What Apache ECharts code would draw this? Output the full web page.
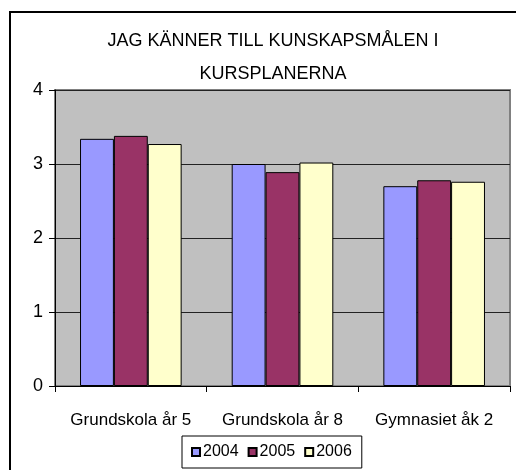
<!DOCTYPE html>
<html>
<head>
<meta charset="utf-8">
<script src="https://cdn.jsdelivr.net/npm/echarts@6/dist/echarts.min.js"></script>
<style>html,body{margin:0;padding:0;background:#fff;}#c{width:516px;height:470px;}</style>
</head>
<body>
<div id="c"></div>
<script>
const categories = ['Grundskola år 5', 'Grundskola år 8', 'Gymnasiet åk 2'];
const seriesNames = ['2004', '2005', '2006'];
const values2004 = [3.34, 3.00, 2.70];
const values2005 = [3.38, 2.89, 2.78];
const values2006 = [3.27, 3.02, 2.76];
const yTicks = [0, 1, 2, 3, 4];
const titleText = 'JAG KÄNNER TILL KUNSKAPSMÅLEN I\nKURSPLANERNA';

const colors = ['#9999ff', '#993366', '#ffffcc'];
const allValues = [values2004, values2005, values2006];
const font = '"Liberation Sans", Arial, sans-serif';

const chart = echarts.init(document.getElementById('c'), null, {renderer: 'canvas'});
chart.setOption({
  animation: false,
  backgroundColor: '#ffffff',
  graphic: [{
    type: 'rect',
    shape: {x: 10, y: 12, width: 540, height: 500},
    style: {fill: 'none', stroke: '#000', lineWidth: 2},
    silent: true
  }],
  title: {
    text: titleText,
    left: 268, top: 20,
    textAlign: 'center',
    textStyle: {fontFamily: font, fontSize: 18, fontWeight: 'normal', color: '#000', lineHeight: 33}
  },
  legend: {
    data: seriesNames,
    left: 182, top: 436,
    padding: [8, 10, 8, 9],
    itemGap: 9,
    itemWidth: 8, itemHeight: 8,
    icon: 'rect',
    borderColor: '#000', borderWidth: 1,
    textStyle: {fontFamily: font, fontSize: 16, color: '#000', padding: [0, 0, 0, -2]}
  },
  grid: {
    left: 55, right: 6, top: 90, bottom: 84,
    show: true, backgroundColor: '#c0c0c0', borderColor: '#808080', borderWidth: 2
  },
  xAxis: {
    type: 'category',
    data: categories,
    axisLine: {lineStyle: {color: '#000', width: 1}},
    axisTick: {show: true, length: 6, lineStyle: {color: '#000'}},
    axisLabel: {interval: 0, fontFamily: font, fontSize: 17, color: '#000', margin: 26}
  },
  yAxis: {
    type: 'value',
    min: yTicks[0], max: yTicks[yTicks.length - 1], interval: 1,
    axisLine: {show: true, lineStyle: {color: '#000', width: 1}},
    axisTick: {show: true, length: 6, lineStyle: {color: '#000'}},
    axisLabel: {fontFamily: font, fontSize: 18, color: '#000', margin: 12},
    splitLine: {show: true, lineStyle: {color: '#222', width: 1}}
  },
  series: seriesNames.map((n, i) => ({
    name: n,
    type: 'bar',
    data: allValues[i],
    barGap: '0%',
    barCategoryGap: '33%',
    itemStyle: {color: colors[i], borderColor: '#000', borderWidth: 1}
  }))
});
</script>
</body>
</html>
